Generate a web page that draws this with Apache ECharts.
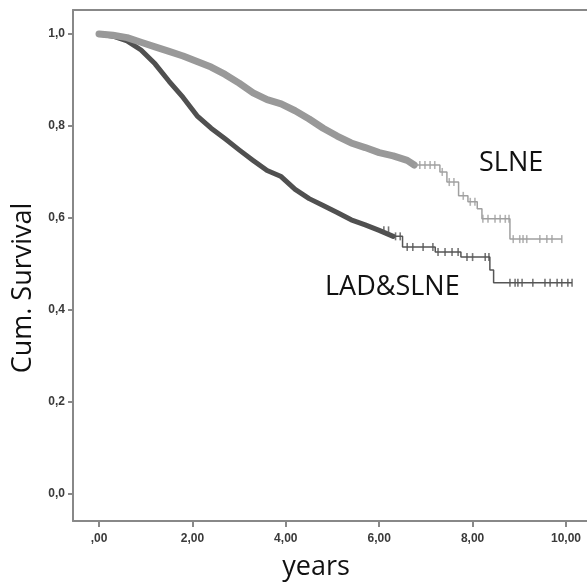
<!DOCTYPE html>
<html><head><meta charset="utf-8">
<script src="https://cdn.jsdelivr.net/npm/echarts@6/dist/echarts.min.js"></script>
<style>html,body{margin:0;padding:0;background:#fff}#c{width:587px;height:585px}</style>
</head><body><div id="c"></div>
<script>
// Kaplan-Meier curve points (years, cumulative survival)
var slneTime = [0, 0.3, 0.6, 0.9, 1.2, 1.5, 1.8, 2.1, 2.4, 2.7, 3.0, 3.3, 3.6, 3.9, 4.2, 4.5, 4.8, 5.1, 5.4, 5.7, 6.0, 6.3, 6.6, 6.75, 7.3, 7.45, 7.7, 7.9, 8.1, 8.2, 8.8, 9.91];
var slneSurv = [1.0, 0.997, 0.992, 0.982, 0.972, 0.962, 0.952, 0.940, 0.928, 0.912, 0.893, 0.872, 0.857, 0.848, 0.833, 0.815, 0.795, 0.778, 0.763, 0.753, 0.742, 0.735, 0.725, 0.715, 0.700, 0.678, 0.648, 0.635, 0.620, 0.598, 0.554, 0.554];
var ladTime = [0, 0.3, 0.6, 0.9, 1.2, 1.5, 1.8, 2.1, 2.4, 2.7, 3.0, 3.3, 3.6, 3.9, 4.2, 4.5, 4.8, 5.1, 5.4, 5.7, 6.0, 6.3, 6.5, 7.2, 7.75, 8.37, 8.45, 10.13];
var ladSurv = [1.0, 0.995, 0.985, 0.965, 0.935, 0.897, 0.862, 0.822, 0.795, 0.772, 0.748, 0.725, 0.703, 0.690, 0.662, 0.642, 0.627, 0.612, 0.596, 0.585, 0.573, 0.560, 0.537, 0.526, 0.515, 0.487, 0.459, 0.459];
// dense (overlapping censor marks) regions drawn as a thick band up to these times
var slneBandEnd = 6.75;
var ladBandEnd = 6.3;
// censored observations (sparse region)
var slneCensT = [6.87, 6.98, 7.09, 7.19, 7.35, 7.5, 7.6, 7.8, 7.95, 8.05, 8.22, 8.33, 8.48, 8.59, 8.7, 8.78, 8.87, 9.01, 9.08, 9.16, 9.44, 9.59, 9.7, 9.91];
var slneCensS = [0.715, 0.715, 0.715, 0.715, 0.700, 0.678, 0.678, 0.648, 0.635, 0.635, 0.598, 0.598, 0.598, 0.598, 0.598, 0.598, 0.554, 0.554, 0.554, 0.554, 0.554, 0.554, 0.554, 0.554];
var ladCensT = [6.1, 6.2, 6.35, 6.45, 6.6, 6.72, 6.94, 7.15, 7.26, 7.41, 7.56, 7.69, 7.88, 8.0, 8.27, 8.35, 8.8, 8.91, 8.97, 9.06, 9.29, 9.55, 9.66, 9.81, 9.91, 10.04, 10.13];
var ladCensS = [0.573, 0.573, 0.560, 0.560, 0.537, 0.537, 0.537, 0.537, 0.526, 0.526, 0.526, 0.526, 0.515, 0.515, 0.515, 0.515, 0.459, 0.459, 0.459, 0.459, 0.459, 0.459, 0.459, 0.459, 0.459, 0.459, 0.459];
// ticks
var xTicks = [0, 2, 4, 6, 8, 10];
var xTickLabels = [',00', '2,00', '4,00', '6,00', '8,00', '10,00'];
var yTicks = [0, 0.2, 0.4, 0.6, 0.8, 1.0];
var yTickLabels = ['0,0', '0,2', '0,4', '0,6', '0,8', '1,0'];

function pairs(t, s, minT, maxT) {
  var out = [];
  for (var i = 0; i < t.length; i++) {
    if ((minT === undefined || t[i] >= minT) && (maxT === undefined || t[i] <= maxT)) out.push([t[i], s[i]]);
  }
  return out;
}
function lookup(ticks, labels, v) {
  for (var i = 0; i < ticks.length; i++) if (Math.abs(ticks[i] - v) < 1e-6) return labels[i];
  return '';
}

var chart = echarts.init(document.getElementById('c'), null, {renderer: 'canvas'});
var axisColor = '#888';
var labelStyle = {color: '#3a3a3a', fontFamily: 'Liberation Sans, Arial', fontSize: 12, fontWeight: 'bold'};
var titleFont = {fontFamily: 'Open Sans', fontSize: 27, fill: '#111'};
function txt(text, x, y, rot, align) {
  return {type: 'text', x: x, y: y, rotation: rot || 0,
    style: Object.assign({text: text, align: align || 'left', verticalAlign: 'middle'}, titleFont)};
}
var option = {
  backgroundColor: '#fff',
  animation: false,
  grid: {left: 73, right: -3, top: 10, bottom: 64},
  xAxis: [{
    type: 'value', min: -0.557, max: 10.45,
    axisLine: {show: true, onZero: false, lineStyle: {color: axisColor, width: 2}},
    axisTick: {show: true, customValues: xTicks, length: 6, lineStyle: {color: axisColor, width: 2}},
    axisLabel: Object.assign({customValues: xTicks, margin: 12, formatter: function (v) { return lookup(xTicks, xTickLabels, v); }}, labelStyle),
    splitLine: {show: false}
  }, {
    type: 'value', position: 'top', min: -0.557, max: 10.45,
    axisLine: {show: true, onZero: false, lineStyle: {color: axisColor, width: 2}},
    axisTick: {show: false}, axisLabel: {show: false}, splitLine: {show: false}
  }],
  yAxis: {
    type: 'value', min: -0.0587, max: 1.052,
    axisLine: {show: true, onZero: false, lineStyle: {color: axisColor, width: 2}},
    axisTick: {show: true, customValues: yTicks, length: 5, lineStyle: {color: axisColor, width: 2}},
    axisLabel: Object.assign({customValues: yTicks, margin: 8, formatter: function (v) { return lookup(yTicks, yTickLabels, v); }}, labelStyle),
    splitLine: {show: false}
  },
  series: [
    {type: 'line', data: pairs(ladTime, ladSurv, undefined, ladBandEnd), showSymbol: false,
     lineStyle: {color: '#505050', width: 5, join: 'round', cap: 'round'}, z: 2},
    {type: 'line', step: 'end', data: pairs(ladTime, ladSurv, ladBandEnd), showSymbol: false,
     lineStyle: {color: '#555', width: 1.5}, z: 2},
    {type: 'scatter', data: pairs(ladCensT, ladCensS), symbol: 'rect', symbolSize: [1.6, 8],
     itemStyle: {color: '#555'}, z: 2},
    {type: 'line', data: pairs(slneTime, slneSurv, undefined, slneBandEnd), showSymbol: false,
     lineStyle: {color: '#999', width: 7, join: 'round', cap: 'round'}, z: 3},
    {type: 'line', step: 'end', data: pairs(slneTime, slneSurv, slneBandEnd), showSymbol: false,
     lineStyle: {color: '#a0a0a0', width: 1.5}, z: 3},
    {type: 'scatter', data: pairs(slneCensT, slneCensS), symbol: 'rect', symbolSize: [1.6, 8],
     itemStyle: {color: '#a0a0a0'}, z: 3}
  ],
  graphic: [
    txt('years', 316, 567, 0, 'center'),
    txt('Cum. Survival', 23, 288, Math.PI / 2, 'center'),
    txt('SLNE', 479, 163),
    txt('LAD&SLNE', 325, 287)
  ]
};
chart.setOption(option);
</script></body></html>
